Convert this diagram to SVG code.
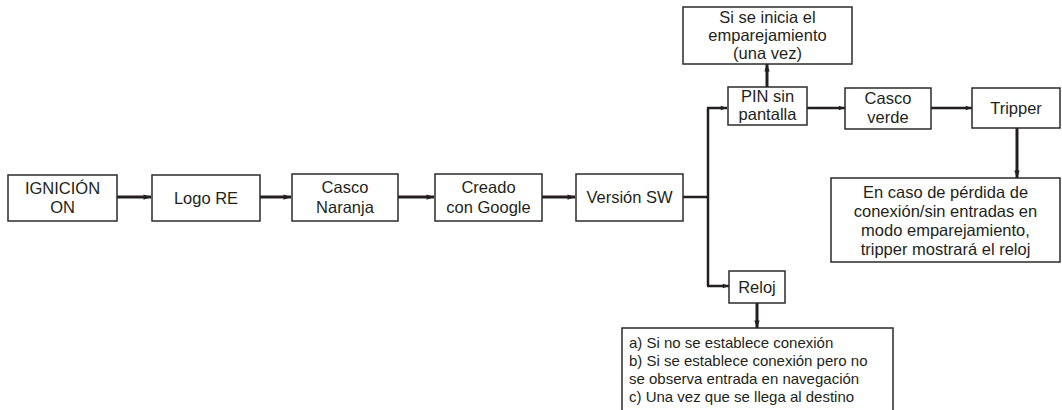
<svg xmlns="http://www.w3.org/2000/svg" width="1062" height="410" viewBox="0 0 1062 410">
<defs>
<style>
.box{fill:#fff;stroke:#2b2b2b;stroke-width:1.5}
.t{font-family:"Liberation Sans",Arial,sans-serif;font-size:16.5px;fill:#231f20;text-anchor:middle}
.tl{font-family:"Liberation Sans",Arial,sans-serif;font-size:15px;fill:#231f20}
.c{fill:none;stroke:#231f20;stroke-width:3}
.c2{fill:none;stroke:#231f20;stroke-width:2.5}
</style>
<marker id="ah" viewBox="0 0 10 10" refX="10" refY="5" markerWidth="3.5" markerHeight="2.5" orient="auto" markerUnits="strokeWidth">
<path d="M0,1.5 L10,5 L0,8.5 z" fill="#231f20"/>
</marker>
</defs>
<rect width="1062" height="410" fill="#fff"/>
<g id="connectors">
<line class="c" x1="117" y1="197" x2="151" y2="197" marker-end="url(#ah)"/>
<line class="c" x1="260" y1="197" x2="291" y2="197" marker-end="url(#ah)"/>
<line class="c" x1="398" y1="197" x2="434" y2="197" marker-end="url(#ah)"/>
<line class="c" x1="542" y1="197" x2="575" y2="197" marker-end="url(#ah)"/>
<line class="c2" x1="683" y1="197" x2="708" y2="197"/>
<line class="c2" x1="708" y1="108" x2="708" y2="286"/>
<line class="c2" x1="707" y1="108" x2="727" y2="108" marker-end="url(#ah)"/>
<line class="c2" x1="707" y1="286" x2="729" y2="286" marker-end="url(#ah)"/>
<line class="c2" x1="807" y1="108" x2="845" y2="108" marker-end="url(#ah)"/>
<line class="c2" x1="931" y1="108" x2="972" y2="108" marker-end="url(#ah)"/>
<line class="c" x1="767" y1="87" x2="767" y2="64" marker-end="url(#ah)"/>
<line class="c" x1="1017" y1="128" x2="1017" y2="178" marker-end="url(#ah)"/>
<line class="c" x1="757" y1="303" x2="757" y2="328" marker-end="url(#ah)"/>
</g>
<g id="ignicion">
<rect class="box" x="8" y="175" width="109" height="46"/>
<text class="t" x="62.5" y="194">IGNICIÓN</text>
<text class="t" x="62.5" y="213">ON</text>
</g>
<g id="logo">
<rect class="box" x="152" y="175" width="108" height="46"/>
<text class="t" x="206" y="204">Logo RE</text>
</g>
<g id="casco-naranja">
<rect class="box" x="292" y="174" width="106" height="47"/>
<text class="t" x="345" y="193">Casco</text>
<text class="t" x="345" y="213">Naranja</text>
</g>
<g id="creado">
<rect class="box" x="435" y="174" width="107" height="47"/>
<text class="t" x="488.5" y="193">Creado</text>
<text class="t" x="488.5" y="213">con Google</text>
</g>
<g id="version">
<rect class="box" x="576" y="174" width="107" height="47"/>
<text class="t" x="629.5" y="203">Versión SW</text>
</g>
<g id="emparejamiento">
<rect class="box" x="683" y="7" width="169" height="57"/>
<text class="t" x="767.5" y="23">Si se inicia el</text>
<text class="t" x="767.5" y="41">emparejamiento</text>
<text class="t" x="767.5" y="59">(una vez)</text>
</g>
<g id="pin">
<rect class="box" x="728" y="87" width="79" height="38"/>
<text class="t" x="767.5" y="102">PIN sin</text>
<text class="t" x="767.5" y="120">pantalla</text>
</g>
<g id="casco-verde">
<rect class="box" x="845" y="88" width="86" height="41"/>
<text class="t" x="888" y="104">Casco</text>
<text class="t" x="888" y="123">verde</text>
</g>
<g id="tripper">
<rect class="box" x="972" y="88" width="88" height="40"/>
<text class="t" x="1016" y="114">Tripper</text>
</g>
<g id="perdida">
<rect class="box" x="831" y="178" width="229" height="84"/>
<text class="t" x="945.5" y="198">En caso de pérdida de</text>
<text class="t" x="945.5" y="217">conexión/sin entradas en</text>
<text class="t" x="945.5" y="236">modo emparejamiento,</text>
<text class="t" x="945.5" y="255">tripper mostrará el reloj</text>
</g>
<g id="reloj">
<rect class="box" x="729" y="271" width="56" height="32"/>
<text class="t" x="757" y="293">Reloj</text>
</g>
<g id="condiciones">
<path class="box" d="M622,412 V328 H893 V412"/>
<text class="tl" x="629" y="348">a) Si no se establece conexión</text>
<text class="tl" x="629" y="366">b) Si se establece conexión pero no</text>
<text class="tl" x="629" y="384">se observa entrada en navegación</text>
<text class="tl" x="629" y="402">c) Una vez que se llega al destino</text>
</g>
</svg>
